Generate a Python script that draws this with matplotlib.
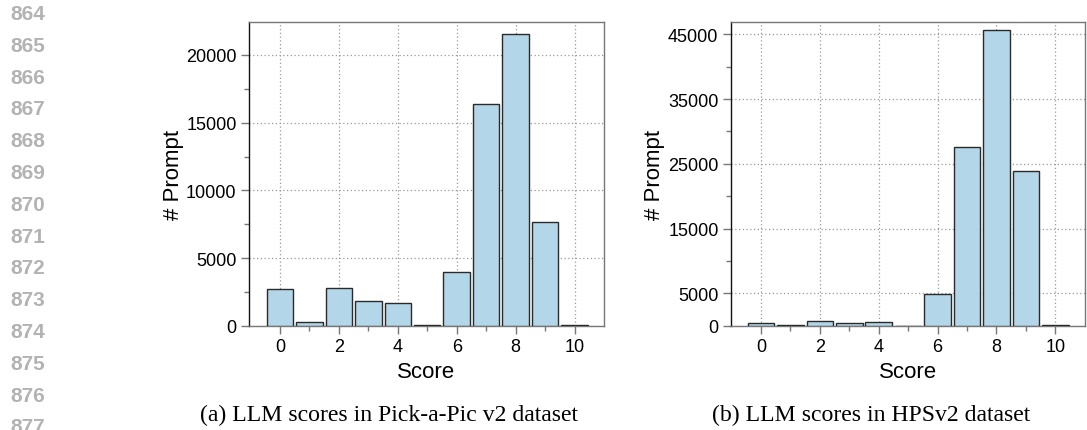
import matplotlib
matplotlib.use("Agg")
import matplotlib.pyplot as plt
from matplotlib.ticker import FixedLocator

scores = list(range(11))
pick_counts = [2710, 250, 2810, 1820, 1680, 20, 3990, 16360, 21530, 7640, 30]
hps_counts = [420, 60, 680, 370, 620, 30, 4900, 27600, 45630, 23950, 40]

pick_yticks = [0, 5000, 10000, 15000, 20000]
pick_yminor = [2500, 7500, 12500, 17500]
hps_yticks = [0, 5000, 15000, 25000, 35000, 45000]
hps_yminor = [10000, 20000, 30000, 40000]
xticks = [0, 2, 4, 6, 8, 10]
xminor = [1, 3, 5, 7, 9]
captions = ["(a) LLM scores in Pick-a-Pic v2 dataset", "(b) LLM scores in HPSv2 dataset"]
line_numbers = list(range(864, 878))

plt.rcParams['font.family'] = ['Liberation Sans', 'DejaVu Sans']

fig = plt.figure(figsize=(10.87, 4.31), dpi=100)

ax1 = fig.add_axes([249/1087, 1-326.7/431, 355/1087, 304/431])
ax2 = fig.add_axes([731/1087, 1-326.7/431, 354.3/1087, 304/431])

face = '#b3d6e8'
edge = '#2a2a2a'
spine_gray = '#777777'

def style(ax, counts, ylim, yticks, yminor, xlim, ypad):
    ax.set_axisbelow(True)
    ax.bar(scores, counts, width=0.9, color=face, edgecolor=edge, linewidth=1.0, zorder=3)
    ax.set_xlim(*xlim)
    ax.set_ylim(0, ylim)
    ax.xaxis.set_major_locator(FixedLocator(xticks))
    ax.xaxis.set_minor_locator(FixedLocator(xminor))
    ax.yaxis.set_major_locator(FixedLocator(yticks))
    ax.yaxis.set_minor_locator(FixedLocator(yminor))
    ax.grid(True, which='major', linestyle=(0, (1, 2)), color='#999999', linewidth=0.9)
    ax.tick_params(axis='both', which='major', labelsize=13, length=6, width=1.0,
                   color=spine_gray, direction='out', pad=3)
    ax.tick_params(axis='both', which='minor', length=3.5, width=1.0, color=spine_gray, direction='out')
    for s in ['top', 'right', 'bottom']:
        ax.spines[s].set_color(spine_gray)
        ax.spines[s].set_linewidth(1.0)
    ax.spines['left'].set_color('#111111')
    ax.spines['left'].set_linewidth(1.0)
    ax.set_xlabel('Score', fontsize=16, labelpad=4)
    ax.set_ylabel('# Prompt', fontsize=16, labelpad=ypad)

style(ax1, pick_counts, 22460, pick_yticks, pick_yminor, (-1.05, 11.0), 1.8)
style(ax2, hps_counts, 46960, hps_yticks, hps_yminor, (-1.02, 11.02), 2.3)

fig.text(389/1087, 1-415/431, captions[0], ha='center', va='center', fontsize=17.1,
         family=['Liberation Serif', 'DejaVu Serif'])
fig.text(871/1087, 1-415/431, captions[1], ha='center', va='center', fontsize=17.1,
         family=['Liberation Serif', 'DejaVu Serif'])

for i, n in enumerate(line_numbers):
    fig.text(10/1087, 1-(14.5 + i*31.8)/431, str(n), ha='left', va='center', fontsize=15,
             color='#b3b3b3', fontweight='bold')

fig.savefig('out.png', dpi=100)
